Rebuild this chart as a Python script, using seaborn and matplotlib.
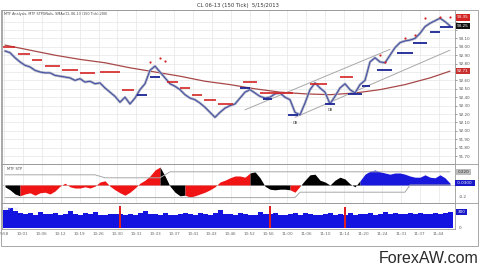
import numpy as np
import matplotlib
matplotlib.use("Agg")
import matplotlib.pyplot as plt
import matplotlib.transforms as mtransforms
from matplotlib.lines import Line2D
from matplotlib.patches import Rectangle
import seaborn as sns

# ---------------- data ----------------
title = "CL 06-13 (150 Tick)  5/15/2013"
price_title = "MTF Analysis, MTF STPGNals, SMAs(CL 06-13 (150 Tick),200)"
time_labels = ["9:58", "10:01", "10:06", "10:12", "10:19", "10:26", "10:30", "10:31",
               "10:33", "10:37", "10:41", "10:43", "10:46", "10:52", "10:56", "11:00",
               "11:06", "11:10", "11:14", "11:20", "11:24", "11:31", "11:37", "11:44"]
price_ticks = [91.70, 91.80, 91.90, 92.00, 92.10, 92.20, 92.30, 92.40, 92.50,
               92.60, 92.70, 92.80, 92.90, 93.00, 93.10, 93.20, 93.30]
# labels hidden behind the value boxes in the reference
price_tick_labels = ["91.70", "91.80", "91.90", "92.00", "92.10", "92.20", "92.30", "92.40",
                     "92.50", "92.60", "", "92.80", "92.90", "93.00", "93.10", "", ""]

price = [92.95, 92.93, 92.87, 92.82, 92.78, 92.76, 92.72, 92.70, 92.69, 92.69,
         92.66, 92.65, 92.64, 92.63, 92.60, 92.62, 92.58, 92.59, 92.56, 92.57,
         92.51, 92.46, 92.41, 92.34, 92.40, 92.32, 92.39, 92.49, 92.56, 92.72,
         92.77, 92.70, 92.63, 92.56, 92.53, 92.49, 92.43, 92.39, 92.37, 92.33,
         92.28, 92.22, 92.16, 92.22, 92.27, 92.30, 92.32, 92.39, 92.46, 92.49,
         92.45, 92.41, 92.39, 92.40, 92.44, 92.45, 92.40, 92.37, 92.22, 92.19,
         92.33, 92.49, 92.57, 92.51, 92.46, 92.32, 92.41, 92.51, 92.56, 92.49,
         92.45, 92.55, 92.60, 92.82, 92.87, 92.82, 92.81, 92.90, 92.99, 93.05,
         93.07, 93.08, 93.10, 93.16, 93.24, 93.28, 93.31, 93.34, 93.30, 93.25]

ma_idx = [0, 5, 10, 15, 20, 25, 30, 35, 40, 45, 50, 55, 60, 65, 70, 75, 80, 85, 89]
ma_val = [93.02, 92.96, 92.90, 92.85, 92.81, 92.75, 92.70, 92.65, 92.59, 92.55,
          92.50, 92.46, 92.44, 92.43, 92.45, 92.49, 92.55, 92.63, 92.71]

chan_lo_idx = [58, 89]
chan_lo_val = [92.16, 92.96]
chan_hi_idx = [48, 77]
chan_hi_val = [92.25, 92.97]

red_stop_x0 = [-0.4, 2.6, 5.4, 8, 11.4, 15, 19, 23.4, 32.4, 35, 37.4, 39.8, 42.6, 47.6, 51, 61, 67]
red_stop_x1 = [2, 5, 7.4, 11, 14.6, 18, 23, 25.8, 34.6, 37, 39.4, 42.2, 45.6, 50.4, 57.6, 64.4, 69.6]
red_stop_val = [93.00, 92.91, 92.84, 92.77, 92.72, 92.69, 92.70, 92.49, 92.58, 92.51,
                92.43, 92.37, 92.32, 92.58, 92.45, 92.56, 92.64]

blue_stop_x0 = [26.4, 29, 47, 51.6, 56.6, 64, 68.6, 71.4, 74.4, 78.4, 81.6, 85, 87]
blue_stop_x1 = [28.4, 31, 49, 53.4, 58.6, 66, 71.4, 73, 77.4, 81.6, 84.4, 87, 89.6]
blue_stop_val = [92.43, 92.64, 92.51, 92.38, 92.19, 92.32, 92.44, 92.53, 92.72, 92.93,
                 93.05, 93.18, 93.24]

red_dot_idx = [29, 31, 32, 75, 76, 80, 82, 84, 87, 89]
red_dot_val = [92.82, 92.87, 92.83, 92.90, 92.82, 93.10, 93.14, 93.34, 93.35, 93.35]

db_idx = [58, 65]
db_val = [92.09, 92.25]

osc = [-0.03, -0.08, -0.15, -0.18, -0.15, -0.13, -0.17, -0.13, -0.12, -0.15,
       -0.10, -0.02, 0.03, -0.03, -0.05, -0.05, -0.03, -0.05, -0.02, 0.05,
       0.07, -0.02, -0.08, -0.13, -0.17, -0.12, -0.05, 0.03, 0.08, 0.15,
       0.25, 0.30, 0.15, -0.02, -0.12, -0.18, -0.17, -0.20, -0.18, -0.15,
       -0.12, -0.08, -0.03, 0.05, 0.08, 0.12, 0.15, 0.15, 0.13, 0.20,
       0.22, 0.12, -0.02, -0.07, -0.08, -0.07, -0.07, -0.08, -0.12, -0.02,
       0.08, 0.17, 0.18, 0.08, 0.05, 0.00, 0.08, 0.13, 0.10, 0.02,
       -0.03, 0.07, 0.18, 0.23, 0.25, 0.22, 0.20, 0.18, 0.20, 0.20,
       0.18, 0.15, 0.13, 0.13, 0.17, 0.13, 0.12, 0.17, 0.12, 0.03]
osc_seg_start = [0, 3, 31, 36, 49, 57, 59, 71]
osc_seg_color = ["k", "r", "k", "r", "k", "r", "k", "b"]
band_up_idx = [0, 18, 20, 31, 33, 89]
band_up_val = [0.17, 0.17, 0.12, 0.12, 0.22, 0.22]
band_lo_idx = [0, 58, 59, 80, 81, 89]
band_lo_val = [-0.21, -0.21, -0.12, -0.12, 0.0, 0.0]

vol = [340, 370, 310, 290, 260, 280, 250, 300, 270, 255,
       285, 245, 265, 310, 255, 245, 275, 265, 295, 250,
       245, 265, 255, 270, 245, 265, 250, 285, 320, 265,
       255, 245, 275, 250, 245, 265, 285, 255, 245, 275,
       265, 250, 285, 330, 265, 255, 245, 275, 265, 250,
       245, 295, 265, 255, 275, 250, 245, 265, 285, 250,
       275, 265, 250, 245, 265, 285, 250, 265, 245, 275,
       250, 265, 255, 285, 245, 265, 295, 255, 275, 265,
       255, 285, 265, 275, 255, 265, 285, 255, 275, 300]
vol_red_idx = [23, 53, 68]
vol_red_val = [420, 410, 400]

# ---------------- style ----------------
sns.set_style("white")
plt.rcParams["font.family"] = ["DejaVu Sans"]

W, H = 480, 271
fig = plt.figure(figsize=(4.8, 2.71), dpi=100)
fig.patch.set_facecolor("white")


def frac(x0, y0, x1, y1):
    return [x0 / W, 1 - y1 / H, (x1 - x0) / W, (y1 - y0) / H]


ax_p = fig.add_axes(frac(2, 10, 455, 164))
ax_i = fig.add_axes(frac(2, 164, 455, 203), sharex=ax_p)
ax_v = fig.add_axes(frac(2, 203, 455, 229), sharex=ax_p)

idx = np.arange(len(price))
tick_pos = -0.2 + 3.78 * np.arange(len(time_labels))
spine_c = "#9a9a9a"
grid_c = "#e6e6e6"

for ax in (ax_p, ax_i, ax_v):
    for s in ax.spines.values():
        s.set_color(spine_c)
        s.set_linewidth(0.6)
    ax.set_xlim(-0.6, 90)
    ax.yaxis.tick_right()
    ax.tick_params(axis="y", labelsize=3, length=1.5, width=0.4, pad=1, colors="#555555")
    ax.tick_params(axis="x", labelsize=3, length=1.5, width=0.4, pad=1, colors="#666666")

# ---------------- price panel ----------------
ax_p.set_ylim(91.605, 93.438)
ax_p.set_yticks(price_ticks)
ax_p.set_yticklabels(price_tick_labels)
ax_p.set_xticks(tick_pos)
ax_p.grid(True, color=grid_c, lw=0.5)
ax_p.tick_params(axis="x", labelbottom=False, length=0)

sns.lineplot(x=ma_idx, y=ma_val, ax=ax_p, color="#a84848", lw=0.9)
sns.lineplot(x=chan_lo_idx, y=chan_lo_val, ax=ax_p, color="#a8a8a8", lw=0.7)
sns.lineplot(x=chan_hi_idx, y=chan_hi_val, ax=ax_p, color="#a8a8a8", lw=0.7)
sns.lineplot(x=idx, y=price, ax=ax_p, color="#a6a8bc", lw=1.8)
sns.lineplot(x=idx, y=price, ax=ax_p, color="#3444a4", lw=0.6)
ax_p.hlines(red_stop_val, red_stop_x0, red_stop_x1, color="#d42424", lw=1.2)
ax_p.hlines(blue_stop_val, blue_stop_x0, blue_stop_x1, color="#1a2494", lw=1.3)
ax_p.scatter(red_dot_idx, red_dot_val, s=2.5, color="#d42424", lw=0, zorder=5)
for xi, yv in zip(db_idx, db_val):
    ax_p.text(xi, yv, "DB", fontsize=2.6, color="#444444", ha="center", va="center")
ax_p.text(0.004, 0.985, price_title, transform=ax_p.transAxes, fontsize=2.4,
          va="top", ha="left", color="#444444")

tp = mtransforms.blended_transform_factory(ax_p.transAxes, ax_p.transData)
for val, fc in [(max(red_dot_val), "#d42424"), (price[-1], "#111111"), (ma_val[-1], "#c83030")]:
    ax_p.text(1.004, val, f"{val:.2f}", transform=tp, fontsize=3, color="white",
              va="center", ha="left", clip_on=False, zorder=10,
              bbox=dict(boxstyle="square,pad=0.3", fc=fc, ec="none"))

# ---------------- indicator panel ----------------
ax_i.set_ylim(-0.30, 0.35)
ax_i.set_yticks([])
ax_i.set_xticks(tick_pos)
ax_i.grid(True, axis="x", color=grid_c, lw=0.5)
ax_i.tick_params(axis="x", labelbottom=False, length=0)
cmap = {"k": "#000000", "r": "#f01414", "b": "#1818dc"}
osc_arr = np.array(osc)
bounds = osc_seg_start + [len(osc) - 1]
for k, c in enumerate(osc_seg_color):
    s, e = bounds[k], bounds[k + 1]
    ax_i.fill_between(idx[s:e + 1], 0, osc_arr[s:e + 1], color=cmap[c], lw=0)
ax_i.axhline(0, color="#b0b0b0", lw=0.4, zorder=0)
sns.lineplot(x=band_up_idx, y=band_up_val, ax=ax_i, color="#a8a8a8", lw=0.7)
sns.lineplot(x=band_lo_idx, y=band_lo_val, ax=ax_i, color="#a8a8a8", lw=0.7)
ax_i.text(0.01, 0.86, "MTF STP", transform=ax_i.transAxes, fontsize=2.6,
          va="center", ha="left", color="#444444")
ti = mtransforms.blended_transform_factory(ax_i.transAxes, ax_i.transData)
ax_i.text(1.006, band_up_val[-1], f"{band_up_val[-1]:.3f}", transform=ti, fontsize=3,
          color="#333333", va="center", ha="left", clip_on=False,
          bbox=dict(boxstyle="square,pad=0.3", fc="#bdbdbd", ec="none"))
ax_i.text(1.002, osc[-1], f" {osc[-1]:.4f}  ", transform=ti, fontsize=3,
          color="white", va="center", ha="left", clip_on=False,
          bbox=dict(boxstyle="square,pad=0.3", fc="#1818c8", ec="none"))
ax_i.text(1.008, -0.2, "-0.2", transform=ti, fontsize=3, color="#555555",
          va="center", ha="left", clip_on=False)

# ---------------- volume panel ----------------
ax_v.set_ylim(-19, 469)
ax_v.set_yticks([])
ax_v.bar(idx, vol, width=1.0, color="#1414e0", lw=0)
ax_v.bar(vol_red_idx, vol_red_val, width=0.3, color="#e02020", lw=0)
ax_v.set_xticks(tick_pos)
ax_v.set_xticklabels(time_labels)
ax_v.text(0.004, 0.78, "MTF Vol", transform=ax_v.transAxes, fontsize=2.6,
          va="center", ha="left", color="#dddddd")
tv = mtransforms.blended_transform_factory(ax_v.transAxes, ax_v.transData)
ax_v.text(1.006, vol[-1], f"{vol[-1]}", transform=tv, fontsize=3, color="white",
          va="center", ha="left", clip_on=False,
          bbox=dict(boxstyle="square,pad=0.3", fc="#1818c8", ec="none"))
ax_v.text(1.008, 0, "0", transform=tv, fontsize=3, color="#555555",
          va="center", ha="left", clip_on=False)

# ---------------- frame, title, watermark ----------------
fig.add_artist(Rectangle((1 / W, 1 - 246 / H), 477 / W, 236 / H, transform=fig.transFigure,
                         fill=False, ec=spine_c, lw=0.6))
for yy in (164, 203):
    fig.add_artist(Line2D([1 / W, 478 / W], [1 - yy / H, 1 - yy / H],
                          transform=fig.transFigure, color=spine_c, lw=0.6))
fig.text(238 / W, 1 - 5 / H, title, ha="center", va="center", fontsize=3.8, color="#333333")
fig.text(478 / W, 1 - 263 / H, "ForexAW.com", ha="right", va="baseline",
         fontsize=11.5, family="Liberation Sans", color="#2a2a2a")

fig.savefig("out.png", dpi=100, facecolor="white")
